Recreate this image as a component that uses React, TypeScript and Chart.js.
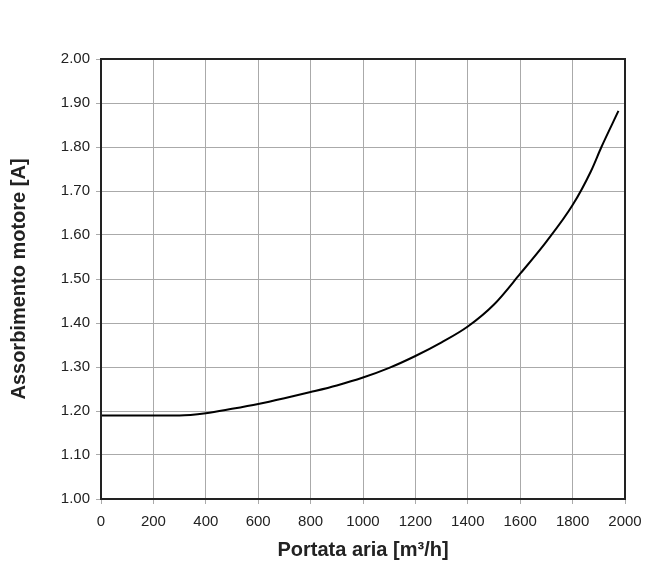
import React, { useEffect, useRef } from "react";
import { Chart, registerables } from "chart.js";

Chart.register(...registerables);

const flowValues = [0, 200, 300, 400, 500, 600, 700, 800, 900, 1000, 1100, 1200, 1300, 1400, 1500, 1600, 1700, 1800, 1870, 1910, 1975];
const currentValues = [1.19, 1.19, 1.19, 1.195, 1.205, 1.216, 1.229, 1.243, 1.258, 1.276, 1.298, 1.325, 1.356, 1.392, 1.442, 1.512, 1.585, 1.668, 1.745, 1.8, 1.882];

const xTitle = "Portata aria [m³/h]";
const yTitle = "Assorbimento motore [A]";
const FONT = "'Liberation Sans', Arial, sans-serif";

const borderPlugin = {
  id: "frameBorder",
  afterDraw(chart: any) {
    const { ctx, chartArea } = chart;
    ctx.save();
    ctx.strokeStyle = "#222";
    ctx.lineWidth = 2;
    ctx.strokeRect(chartArea.left, chartArea.top, chartArea.right - chartArea.left, chartArea.bottom - chartArea.top);
    ctx.restore();
  },
};

export default function App() {
  const ref = useRef<HTMLCanvasElement | null>(null);
  useEffect(() => {
    if (!ref.current) return;
    const data = flowValues.map((x, i) => ({ x, y: currentValues[i] }));
    const chart = new Chart(ref.current, {
      type: "line",
      data: {
        datasets: [
          {
            data,
            borderColor: "#000",
            borderWidth: 2,
            pointRadius: 0,
            fill: false,
            cubicInterpolationMode: "monotone",
          },
        ],
      },
      options: {
        animation: false,
        responsive: false,
        maintainAspectRatio: false,
        layout: { padding: { left: 0, right: 20, top: 59, bottom: 0 } },
        plugins: { legend: { display: false }, tooltip: { enabled: false } },
        scales: {
          x: {
            type: "linear",
            min: 0,
            max: 2000,
            afterFit: (s: any) => { s.height = 67; s.paddingLeft = 0; s.paddingRight = 0; },
            ticks: { stepSize: 200, color: "#222", font: { family: FONT, size: 15 }, padding: 9, maxRotation: 0, callback: (v: any) => String(v) },
            grid: { color: "#aaa", lineWidth: 1, tickLength: 5 },
            border: { display: false },
            title: { display: true, text: xTitle, color: "#222", font: { family: FONT, size: 20, weight: "bold" }, padding: { top: 9 } },
          },
          y: {
            min: 1,
            max: 2,
            afterFit: (s: any) => { s.width = 101; s.paddingTop = 0; s.paddingBottom = 0; },
            ticks: { stepSize: 0.1, color: "#222", font: { family: FONT, size: 15 }, padding: 6, callback: (v: any) => Number(v).toFixed(2) },
            grid: { color: "#aaa", lineWidth: 1, tickLength: 5 },
            border: { display: false },
            title: { display: true, text: yTitle, color: "#222", font: { family: FONT, size: 20, weight: "bold" }, padding: { top: 7, bottom: 0 } },
          },
        },
      },
      plugins: [borderPlugin],
    } as any);
    return () => chart.destroy();
  }, []);
  return (
    <div style={{ position: "fixed", left: 0, top: 0, width: 645, height: 566, background: "#fff" }}>
      <canvas ref={ref} width={645} height={566} style={{ display: "block" }} />
    </div>
  );
}
